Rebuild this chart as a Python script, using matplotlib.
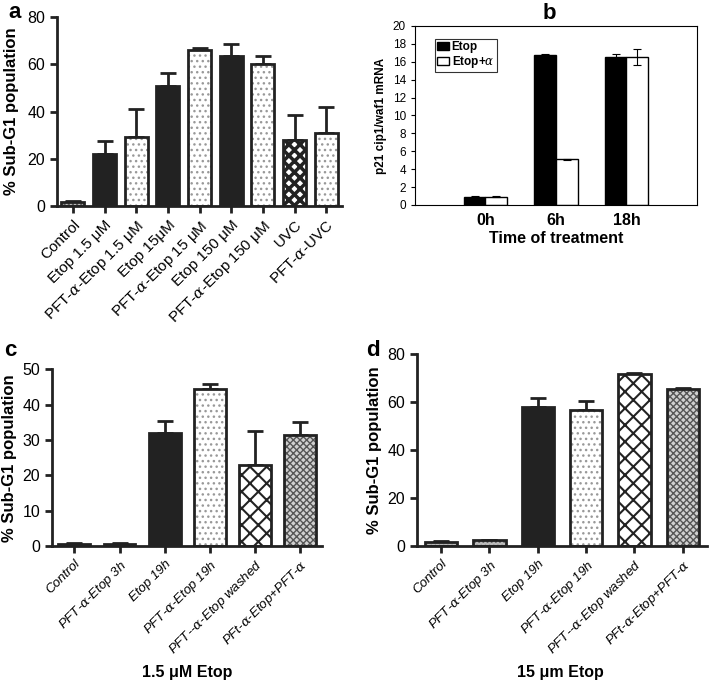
import matplotlib
matplotlib.use("Agg")
import matplotlib.pyplot as plt
import numpy as np

plt.rcParams['font.family'] = ['Liberation Sans', 'DejaVu Sans']
plt.rcParams['mathtext.fontset'] = 'custom'
plt.rcParams['mathtext.it'] = 'DejaVu Serif:italic'

# panel a
a_labels = ['Control', 'Etop 1.5 \u03bcM', 'PFT-$\\alpha$-Etop 1.5 \u03bcM', 'Etop 15\u03bcM',
            'PFT-$\\alpha$-Etop 15 \u03bcM', 'Etop 150 \u03bcM', 'PFT-$\\alpha$-Etop 150 \u03bcM',
            'UVC', 'PFT-$\\alpha$-UVC']
a_vals = [1.5, 22, 29, 51, 66, 63.5, 60, 28, 31]
a_err = [0.5, 5.5, 12, 5.5, 1, 5, 3.5, 10.5, 11]
a_kind = ['ctrl', 'solid', 'dot', 'solid', 'dot', 'solid', 'dot', 'check', 'dot']

# panel b
b_times = ['0h', '6h', '18h']
b_etop = [0.9, 16.8, 16.5]
b_etop_err = [0.05, 0.05, 0.4]
b_alpha = [0.9, 5.1, 16.5]
b_alpha_err = [0.05, 0.05, 0.9]

# panels c and d
cd_labels = ['Control', 'PFT-$\\alpha$-Etop 3h', 'Etop 19h', 'PFT-$\\alpha$-Etop 19h',
             'PFT--$\\alpha$-Etop washed', 'PFt-$\\alpha$-Etop+PFT-$\\alpha$']
cd_kind = ['ctrl', 'ctrl', 'solid', 'dot', 'cross', 'fine']
c_vals = [0.7, 0.6, 32, 44.5, 23, 31.5]
c_err = [0.2, 0.2, 3.5, 1.5, 9.5, 3.5]
d_vals = [1.8, 2.3, 58, 56.5, 71.5, 65.5]
d_err = [0.3, 0.3, 3.5, 4, 0.5, 0.3]

styles = {
    'ctrl': dict(fc='#bbbbbb', hatch='....', hc='#555555'),
    'solid': dict(fc='#222222', hatch=None, hc='#222222'),
    'dot': dict(fc='white', hatch='...', hc='#999999'),
    'check': dict(fc='white', hatch='xxx', hc='#222222'),
    'cross': dict(fc='white', hatch='xx', hc='#222222'),
    'fine': dict(fc='#d0d0d0', hatch='xxxxx', hc='#555555'),
}


def draw_bars(ax, vals, err, kinds, width, capsize):
    x = np.arange(len(vals))
    for xi, v, k in zip(x, vals, kinds):
        st = styles[k]
        b = ax.bar(xi, v, width, color=st['fc'], edgecolor=st['hc'], linewidth=0,
                   hatch=st['hatch'], zorder=2)
        for p in b:
            if k == 'check':
                p.set_hatch_linewidth(2.5)
            elif k == 'cross':
                p.set_hatch_linewidth(1.5)
            else:
                p.set_hatch_linewidth(1.0)
        ax.bar(xi, v, width, color='none', edgecolor='#222222', linewidth=2, zorder=3)
    ax.errorbar(x, vals, yerr=[np.zeros(len(vals)), err], fmt='none', ecolor='#222222',
                elinewidth=2, capsize=capsize, capthick=2, zorder=1)
    ax.spines['top'].set_visible(False)
    ax.spines['right'].set_visible(False)
    for s in ['left', 'bottom']:
        ax.spines[s].set_linewidth(2)
        ax.spines[s].set_color('#222222')
    ax.tick_params(width=2, length=5, color='#222222', labelsize=11.5)
    ax.set_xlim(-0.5, len(vals) - 0.5)
    ax.set_xticks(x)


fig = plt.figure(figsize=(7.09, 6.86), dpi=100)

# a
ax = fig.add_axes([0.0804, 0.6997, 0.402, 0.2755])
draw_bars(ax, a_vals, a_err, a_kind, 0.73, 6)
ax.set_ylim(0, 80)
ax.set_yticks([0, 20, 40, 60, 80])
ax.set_xticklabels(a_labels, rotation=45, ha='right', rotation_mode='anchor', fontsize=11)
ax.set_ylabel('% Sub-G1 population', fontsize=12, fontweight='bold', labelpad=6)

# b
ax = fig.add_axes([0.5853, 0.7012, 0.3977, 0.261])
xb = np.arange(1, len(b_times) + 1)
w = 0.31
ax.bar(xb - w / 2, b_etop, w, color='black', edgecolor='black', linewidth=1,
       yerr=b_etop_err, capsize=3, error_kw=dict(elinewidth=0.8, capthick=0.8), label='Etop')
ax.bar(xb + w / 2, b_alpha, w, color='white', edgecolor='black', linewidth=1,
       yerr=b_alpha_err, capsize=3, error_kw=dict(elinewidth=0.8, capthick=0.8), label='Etop+$\\alpha$')
ax.set_xlim(0, 4)
ax.set_ylim(0, 20)
ax.set_yticks(np.arange(0, 21, 2))
ax.set_xticks(xb)
ax.set_xticklabels(b_times, fontsize=11.5, fontweight='bold')
ax.tick_params(axis='x', length=0, pad=6)
ax.tick_params(axis='y', labelsize=8.5, length=3)
ax.set_xlabel('Time of treatment', fontsize=11.5, fontweight='bold', labelpad=2)
ax.set_ylabel('p21 cip1/waf1 mRNA', fontsize=8.5, fontweight='bold')
leg = ax.legend(loc='upper left', bbox_to_anchor=(0.05, 0.96), frameon=True,
                fancybox=False, edgecolor='black', handlelength=1.0, handletextpad=0.2,
                borderpad=0.2, labelspacing=0.05, prop=dict(weight='bold', size=8.5))
leg.get_frame().set_linewidth(0.8)

# c
ax = fig.add_axes([0.0733, 0.2041, 0.381, 0.2573])
draw_bars(ax, c_vals, c_err, cd_kind, 0.71, 6)
ax.set_ylim(0, 50)
ax.set_yticks(np.arange(0, 51, 10))
ax.set_xticklabels(cd_labels, rotation=45, ha='right', rotation_mode='anchor',
                   fontsize=9.5, style='italic')
ax.set_ylabel('% Sub-G1 population', fontsize=12, fontweight='bold')

# d
ax = fig.add_axes([0.588, 0.2041, 0.409, 0.28])
draw_bars(ax, d_vals, d_err, cd_kind, 0.67, 6)
ax.set_ylim(0, 80)
ax.set_yticks([0, 20, 40, 60, 80])
ax.set_xticklabels(cd_labels, rotation=45, ha='right', rotation_mode='anchor',
                   fontsize=9.5, style='italic')
ax.set_ylabel('% Sub-G1 population', fontsize=12, fontweight='bold')

fig.text(0.264, 0.02, '1.5 \u03bcM Etop', fontsize=11.5, fontweight='bold', ha='center',
         va='center', family=['Liberation Sans Narrow', 'Liberation Sans', 'DejaVu Sans'])
fig.text(0.79, 0.02, '15 \u03bcm Etop', fontsize=11.5, fontweight='bold', ha='center',
         va='center', family=['Liberation Sans Narrow', 'Liberation Sans', 'DejaVu Sans'])

for lab, (x, y) in zip('abcd', [(0.012, 0.997), (0.765, 0.995), (0.006, 0.505), (0.516, 0.505)]):
    fig.text(x, y, lab, fontsize=16, fontweight='bold', va='top', ha='left')

fig.savefig('out.png', dpi=100)
